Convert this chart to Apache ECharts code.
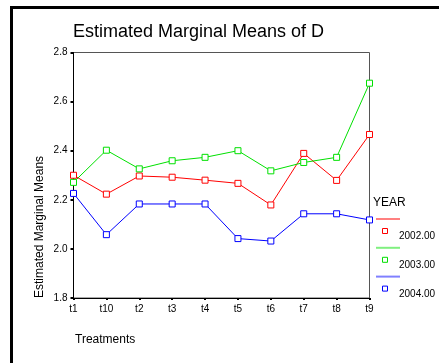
<!DOCTYPE html>
<html>
<head>
<meta charset="utf-8">
<script src="https://cdn.jsdelivr.net/npm/echarts@6/dist/echarts.min.js"></script>
<style>
html,body{margin:0;padding:0;background:#fff;}
#chart{width:439px;height:363px;}
</style>
</head>
<body>
<div id="chart"></div>
<script>
var categories = ['t1','t10','t2','t3','t4','t5','t6','t7','t8','t9'];
var years = ['2002.00','2003.00','2004.00'];
var y2002 = [2.300, 2.223, 2.297, 2.292, 2.280, 2.267, 2.179, 2.389, 2.279, 2.466];
var y2003 = [2.271, 2.402, 2.326, 2.359, 2.373, 2.400, 2.318, 2.352, 2.373, 2.675];
var y2004 = [2.226, 2.058, 2.183, 2.183, 2.183, 2.042, 2.032, 2.143, 2.143, 2.118];
var titleText = 'Estimated Marginal Means of D';
var yName = 'Estimated Marginal Means';
var xName = 'Treatments';
var legendTitle = 'YEAR';

var FONT = '"Liberation Sans", Arial, sans-serif';
var colors = ['#ff0000', '#00e000', '#0000ff'];
var lightColors = ['#ff8080', '#80f080', '#8080ff'];
var seriesData = [y2002, y2003, y2004];

var chart = echarts.init(document.getElementById('chart'));

var series = seriesData.map(function (d, i) {
  return {
    name: years[i],
    type: 'line',
    data: d,
    symbol: 'rect',
    symbolSize: 6,
    showSymbol: true,
    animation: false,
    lineStyle: { color: colors[i], width: 1 },
    itemStyle: { color: '#fff', borderColor: colors[i], borderWidth: 1 },
    emphasis: { disabled: true }
  };
});

var graphics = [
  { type: 'line', shape: { x1: 10, y1: 7.5, x2: 439, y2: 7.5 }, style: { stroke: '#000', lineWidth: 3 } },
  { type: 'line', shape: { x1: 11.5, y1: 6, x2: 11.5, y2: 363 }, style: { stroke: '#000', lineWidth: 3 } },
  { type: 'text', x: 40, y: 298, rotation: Math.PI / 2,
    style: { text: yName, font: '12px ' + FONT, fill: '#000', align: 'left', verticalAlign: 'middle' } },
  { type: 'text', x: 75, y: 340,
    style: { text: xName, font: '12px ' + FONT, fill: '#000', align: 'left', verticalAlign: 'middle' } },
  { type: 'text', x: 373, y: 203,
    style: { text: legendTitle, font: '12px ' + FONT, fill: '#000', align: 'left', verticalAlign: 'middle' } }
];
years.forEach(function (yr, i) {
  var dy = 28.8 * i;
  graphics.push({ type: 'line', shape: { x1: 376, y1: 219 + dy, x2: 400, y2: 219 + dy },
    style: { stroke: lightColors[i], lineWidth: 2 } });
  graphics.push({ type: 'rect', shape: { x: 382.5, y: 228.5 + dy, width: 5, height: 5 },
    style: { stroke: colors[i], fill: '#fff', lineWidth: 1 } });
  graphics.push({ type: 'text', x: 399, y: 236.5 + dy,
    style: { text: yr, font: '10px ' + FONT, fill: '#000', align: 'left', verticalAlign: 'middle' } });
});

chart.setOption({
  animation: false,
  backgroundColor: '#fff',
  textStyle: { fontFamily: FONT },
  title: {
    text: titleText,
    left: 73, top: 23, padding: 0,
    textStyle: { fontFamily: FONT, fontSize: 18, fontWeight: 'normal', color: '#000' }
  },
  grid: {
    left: 73.5, right: 69.5, top: 52.5, bottom: 65,
    show: true, borderColor: '#555', borderWidth: 1, backgroundColor: 'transparent'
  },
  xAxis: {
    type: 'category',
    data: categories,
    boundaryGap: false,
    axisLine: { lineStyle: { color: '#000', width: 1 } },
    axisTick: { show: true, alignWithLabel: true, length: 2, lineStyle: { color: '#000', width: 2 } },
    axisLabel: { color: '#000', fontSize: 10, fontFamily: FONT, margin: 6 },
    splitLine: { show: false }
  },
  yAxis: {
    type: 'value',
    min: 1.8, max: 2.8, interval: 0.2,
    axisLine: { show: true, lineStyle: { color: '#000', width: 1 } },
    axisTick: { show: true, length: 3, lineStyle: { color: '#000', width: 2 } },
    axisLabel: { color: '#000', fontSize: 10, fontFamily: FONT, margin: 6,
      formatter: function (v) { return v.toFixed(1); } },
    splitLine: { show: false }
  },
  series: series,
  graphic: graphics
});
</script>
</body>
</html>
